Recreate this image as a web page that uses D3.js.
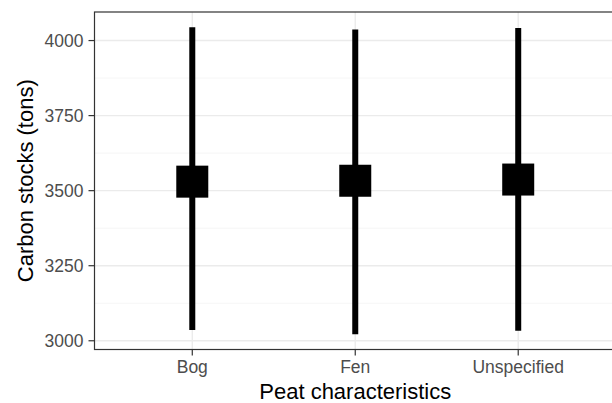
<!DOCTYPE html>
<html>
<head>
<meta charset="utf-8">
<script src="https://cdn.jsdelivr.net/npm/d3@7"></script>
<style>
  body { margin: 0; background: #fff; }
  svg text { font-family: "Liberation Sans", Arial, sans-serif; }
  .tickLabel { fill: #4d4d4d; font-size: 17.5px; }
  .axisTitle { fill: #000; font-size: 22px; }
</style>
</head>
<body>
<div id="chart"></div>
<script>
// values
const categories = ["Bog", "Fen", "Unspecified"]
const means = [3530, 3533, 3537]
const lower = [3036, 3022, 3033]
const upper = [4044, 4037, 4042]
const yTicks = [3000, 3250, 3500, 3750, 4000]
const yMinorTicks = [3125, 3375, 3625, 3875]

const renderPointRange = ({htmlComponent, xTitle, yTitle}) => {
    const width = 612
    const height = 403
    const panel = { left: 94.5, top: 12, right: 616, bottom: 349.5 }

    const data = categories.map((c, i) => ({
        cat: c, mean: means[i], lo: lower[i], hi: upper[i]
    }))

    const svg = d3.select(htmlComponent).append('svg')
        .attr('width', width)
        .attr('height', height)

    // ggplot-like 5% expansion of the data range
    const yMin = d3.min(lower), yMax = d3.max(upper)
    const pad = (yMax - yMin) * 0.05
    const y = d3.scaleLinear()
        .domain([yMin - pad, yMax + pad])
        .range([panel.bottom, panel.top])

    const x = d3.scalePoint()
        .domain(categories)
        .range([panel.left, panel.right])
        .padding(0.6)

    // grid
    const grid = svg.append('g')
    grid.selectAll('.minor').data(yMinorTicks).enter()
        .append('line')
            .attr('x1', panel.left).attr('x2', panel.right)
            .attr('y1', d => y(d)).attr('y2', d => y(d))
            .attr('stroke', '#f2f2f2').attr('stroke-width', 0.8)
    grid.selectAll('.major').data(yTicks).enter()
        .append('line')
            .attr('x1', panel.left).attr('x2', panel.right)
            .attr('y1', d => y(d)).attr('y2', d => y(d))
            .attr('stroke', '#ebebeb').attr('stroke-width', 1.4)
    grid.selectAll('.vmajor').data(categories).enter()
        .append('line')
            .attr('x1', d => x(d)).attr('x2', d => x(d))
            .attr('y1', panel.top).attr('y2', panel.bottom)
            .attr('stroke', '#ebebeb').attr('stroke-width', 1.4)

    // ranges and points
    const marks = svg.append('g')
    marks.selectAll('.range').data(data).enter()
        .append('line')
            .attr('x1', d => x(d.cat)).attr('x2', d => x(d.cat))
            .attr('y1', d => y(d.lo)).attr('y2', d => y(d.hi))
            .attr('stroke', '#000').attr('stroke-width', 6)
    const side = 32
    marks.selectAll('.pt').data(data).enter()
        .append('rect')
            .attr('x', d => x(d.cat) - side / 2)
            .attr('y', d => y(d.mean) - side / 2)
            .attr('width', side).attr('height', side)
            .attr('fill', '#000')

    // panel border
    svg.append('rect')
        .attr('x', panel.left).attr('y', panel.top)
        .attr('width', panel.right - panel.left)
        .attr('height', panel.bottom - panel.top)
        .attr('fill', 'none').attr('stroke', '#333').attr('stroke-width', 1.2)

    // y axis
    const yAxis = svg.append('g')
    yAxis.selectAll('line').data(yTicks).enter()
        .append('line')
            .attr('x1', panel.left - 6).attr('x2', panel.left)
            .attr('y1', d => y(d)).attr('y2', d => y(d))
            .attr('stroke', '#333').attr('stroke-width', 1.2)
    yAxis.selectAll('text').data(yTicks).enter()
        .append('text')
            .attr('class', 'tickLabel')
            .attr('x', panel.left - 11)
            .attr('y', d => y(d))
            .attr('dy', '0.36em')
            .attr('text-anchor', 'end')
            .text(d => d)

    // x axis
    const xAxis = svg.append('g')
    xAxis.selectAll('line').data(categories).enter()
        .append('line')
            .attr('x1', d => x(d)).attr('x2', d => x(d))
            .attr('y1', panel.bottom).attr('y2', panel.bottom + 6)
            .attr('stroke', '#333').attr('stroke-width', 1.2)
    xAxis.selectAll('text').data(categories).enter()
        .append('text')
            .attr('class', 'tickLabel')
            .attr('x', d => x(d))
            .attr('y', 373)
            .attr('text-anchor', 'middle')
            .text(d => d)

    // titles
    svg.append('text')
        .attr('class', 'axisTitle')
        .attr('x', (panel.left + panel.right) / 2)
        .attr('y', 399)
        .attr('text-anchor', 'middle')
        .text(xTitle)

    svg.append('text')
        .attr('class', 'axisTitle')
        .attr('transform', `translate(33, ${(panel.top + panel.bottom) / 2}) rotate(-90)`)
        .attr('text-anchor', 'middle')
        .text(yTitle)
}

renderPointRange({
    htmlComponent: '#chart',
    xTitle: 'Peat characteristics',
    yTitle: 'Carbon stocks (tons)'
})
</script>
</body>
</html>
